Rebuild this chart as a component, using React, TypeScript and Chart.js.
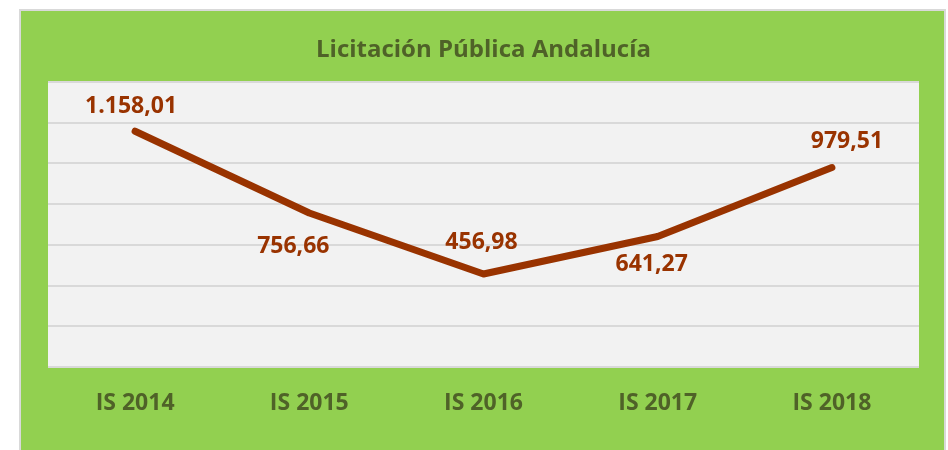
import { useEffect, useRef } from "react";
import { Chart, registerables } from "chart.js";

Chart.register(...registerables);

const chartTitle = "Licitación Pública Andalucía";
const categories = ["IS 2014", "IS 2015", "IS 2016", "IS 2017", "IS 2018"];
const values = [1158.01, 756.66, 456.98, 641.27, 979.51];
const valueLabels = ["1.158,01", "756,66", "456,98", "641,27", "979,51"];
const yMin = 0;
const yMax = 1400;
const yStep = 200;

// label placement (style config): [dx, dy] from the point, in px
const labelOffsets: [number, number][] = [
  [-4, -26.5],
  [-16, 32],
  [-2, -33.5],
  [-6, 26],
  [15, -28],
];

const GREEN = "#92D050";
const DARK_GREEN = "#4F6228";
const LINE = "#993300";
const PLOT_BG = "#F2F2F2";
const GRID = "#D9D9D9";
const FONT = "'Open Sans', 'DejaVu Sans', sans-serif";

const plotBg = {
  id: "plotBg",
  beforeDraw(chart: any) {
    const { ctx, chartArea } = chart;
    ctx.save();
    ctx.fillStyle = PLOT_BG;
    ctx.fillRect(chartArea.left, chartArea.top, chartArea.right - chartArea.left, chartArea.bottom - chartArea.top);
    ctx.restore();
  },
};

const valueLabelPlugin = {
  id: "valueLabels",
  afterDatasetsDraw(chart: any) {
    const { ctx } = chart;
    const meta = chart.getDatasetMeta(0);
    const size = 23;
    ctx.save();
    ctx.font = `bold ${size}px ${FONT}`;
    ctx.fillStyle = LINE;
    ctx.textAlign = "center";
    ctx.textBaseline = "alphabetic";
    meta.data.forEach((pt: any, i: number) => {
      const [dx, dy] = labelOffsets[i];
      ctx.fillText(valueLabels[i], pt.x + dx, pt.y + dy + size * 0.714 / 2);
    });
    ctx.restore();
  },
};

export default function App() {
  const ref = useRef<HTMLCanvasElement>(null);

  useEffect(() => {
    if (!ref.current) return;
    const chart = new Chart(ref.current, {
      type: "line",
      data: {
        labels: categories,
        datasets: [
          {
            data: values,
            borderColor: LINE,
            backgroundColor: LINE,
            borderWidth: 7,
            pointRadius: 0,
            pointHoverRadius: 0,
            borderCapStyle: "round",
            borderJoinStyle: "round",
            tension: 0,
            fill: false,
          },
        ],
      },
      options: {
        responsive: false,
        animation: false,
        devicePixelRatio: 1,
        layout: { padding: { left: 48, right: 29, top: 0, bottom: 9.4 } },
        plugins: {
          legend: { display: false },
          tooltip: { enabled: false },
          title: {
            display: true,
            text: chartTitle,
            color: DARK_GREEN,
            font: { family: FONT, size: 24, weight: "bold", lineHeight: 1.2 },
            padding: { top: 35.6, bottom: 17.6 },
          },
        },
        scales: {
          x: {
            offset: true,
            grid: { display: false, drawTicks: false },
            border: { display: false },
            ticks: {
              color: DARK_GREEN,
              font: { family: FONT, size: 23, weight: "bold", lineHeight: 1.2 },
              padding: 23,
              maxRotation: 0,
            },
          },
          y: {
            min: yMin,
            max: yMax,
            grid: { color: GRID, lineWidth: 2, drawTicks: false },
            border: { display: false },
            ticks: { display: false, stepSize: yStep },
          },
        },
      },
      plugins: [plotBg, valueLabelPlugin],
    });
    return () => chart.destroy();
  }, []);

  return (
    <div style={{ position: "fixed", left: 0, top: 0, width: 948, height: 450, background: "#FFFFFF", overflow: "hidden" }}>
      <div
        style={{
          position: "absolute",
          left: 19,
          top: 9,
          width: 927,
          height: 460,
          boxSizing: "border-box",
          border: `2px solid ${GRID}`,
          background: GREEN,
        }}
      />
      <canvas ref={ref} width={948} height={450} style={{ position: "absolute", left: 0, top: 0, width: 948, height: 450 }} />
    </div>
  );
}
